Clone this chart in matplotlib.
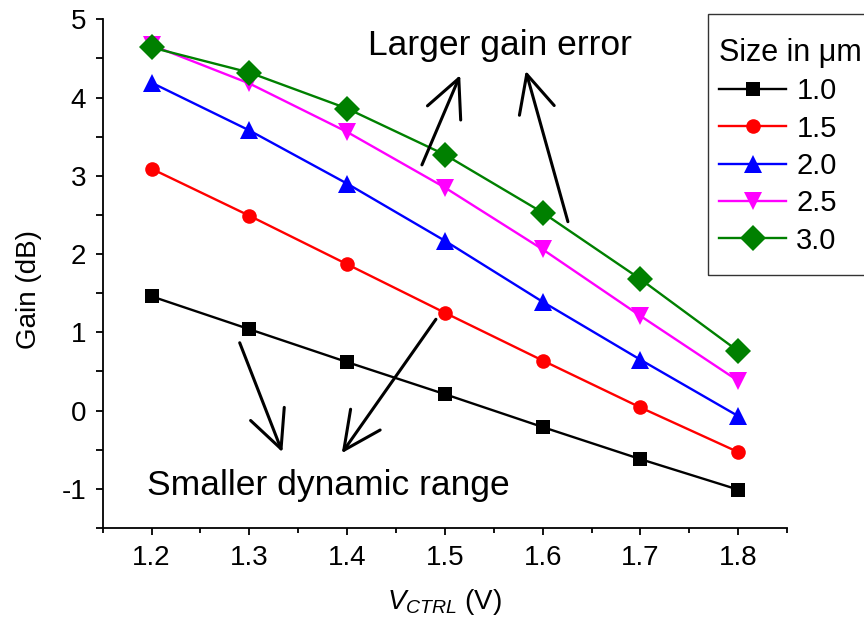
import matplotlib
matplotlib.use("Agg")
import matplotlib.pyplot as plt
from matplotlib.patches import Rectangle
from matplotlib.ticker import MultipleLocator

plt.rcParams['font.family'] = ['Liberation Sans', 'DejaVu Sans']
plt.rcParams['mathtext.fontset'] = 'custom'
plt.rcParams['mathtext.rm'] = 'Liberation Sans'
plt.rcParams['mathtext.it'] = 'Liberation Sans:italic'
plt.rcParams['axes.unicode_minus'] = False

# Control voltage (V)
v_ctrl = [1.2, 1.3, 1.4, 1.5, 1.6, 1.7, 1.8]

# Gain (dB) for each device size
sizes = ["1.0", "1.5", "2.0", "2.5", "3.0"]
gain_1p0 = [1.46, 1.04, 0.62, 0.21, -0.21, -0.62, -1.01]
gain_1p5 = [3.09, 2.49, 1.87, 1.25, 0.64, 0.04, -0.53]
gain_2p0 = [4.19, 3.58, 2.90, 2.17, 1.39, 0.65, -0.07]
gain_2p5 = [4.67, 4.18, 3.56, 2.85, 2.06, 1.21, 0.38]
gain_3p0 = [4.64, 4.32, 3.86, 3.27, 2.53, 1.68, 0.76]
gains = [gain_1p0, gain_1p5, gain_2p0, gain_2p5, gain_3p0]

colors = ["black", "red", "blue", "magenta", "green"]
markers = ["s", "o", "^", "v", "D"]
msizes = [10, 10.5, 13, 13, 13]

W, H = 864, 637
fig = plt.figure(figsize=(W / 100, H / 100), dpi=100)
ax = fig.add_axes([0.1189, 0.1711, 0.911 - 0.1189, 0.9697 - 0.1711])

for lab, g, c, m, ms in zip(sizes, gains, colors, markers, msizes):
    ax.plot(v_ctrl, g, color=c, marker=m, markersize=ms, lw=1.7,
            markeredgewidth=0, label=lab, clip_on=False)

ax.set_xlim(1.15, 1.85)
ax.set_ylim(-1.5, 5)
ax.xaxis.set_major_locator(MultipleLocator(0.1))
ax.xaxis.set_minor_locator(MultipleLocator(0.05))
ax.yaxis.set_major_locator(MultipleLocator(1))
ax.yaxis.set_minor_locator(MultipleLocator(0.5))

for s in ["top", "right"]:
    ax.spines[s].set_visible(False)
for s in ["left", "bottom"]:
    ax.spines[s].set_linewidth(1.3)

ax.tick_params(axis='x', which='major', direction='out', length=5, width=1.3,
               labelsize=20, pad=7)
ax.tick_params(axis='x', which='minor', direction='out', length=3.6, width=1.3)
ax.tick_params(axis='y', which='both', direction='out', length=5, width=1.3,
               labelsize=20, pad=7)

ax.set_xlabel(r'$\mathit{V}_{\mathit{CTRL}}$ (V)', fontsize=20, labelpad=12)
ax.set_ylabel('Gain (dB)', fontsize=20)
ax.yaxis.set_label_coords(-0.0887, 0.468)

# Annotation arrows
arrow_kw = dict(arrowstyle="->,head_length=1.35,head_width=0.65",
                lw=2.2, color="black", shrinkA=0, shrinkB=0, mutation_scale=20)
arrows = [
    ((1.4765, 3.14), (1.5156, 4.286)),
    ((1.6258, 2.414), (1.5827, 4.341)),
    ((1.2901, 0.867), (1.3337, -0.531)),
    ((1.4908, 1.167), (1.3945, -0.544)),
]
for tail, head in arrows:
    ax.annotate("", xy=head, xytext=tail, arrowprops=arrow_kw)

ax.text(1.556, 4.542, "Larger gain error", fontsize=25.5, ha="center", va="baseline")
ax.text(1.3806, -1.077, "Smaller dynamic range", fontsize=25.5, ha="center", va="baseline")

# Legend, with its frame drawn as a separate box running past the right edge
leg = ax.legend(title="Size in μm", loc="upper left",
                bbox_to_anchor=(719 / W, 1 - 38 / H),
                bbox_transform=fig.transFigure, borderaxespad=0,
                fontsize=21, title_fontsize=22, frameon=False,
                handlelength=2.3, handletextpad=0.35, labelspacing=0.32,
                borderpad=0, alignment="left")
frame = Rectangle((708 / W, 1 - 275 / H), 200 / W, (275 - 14) / H,
                  transform=fig.transFigure, fill=False,
                  edgecolor="#333333", lw=1.0, zorder=5)
fig.add_artist(frame)

fig.savefig("out.png", dpi=100)
